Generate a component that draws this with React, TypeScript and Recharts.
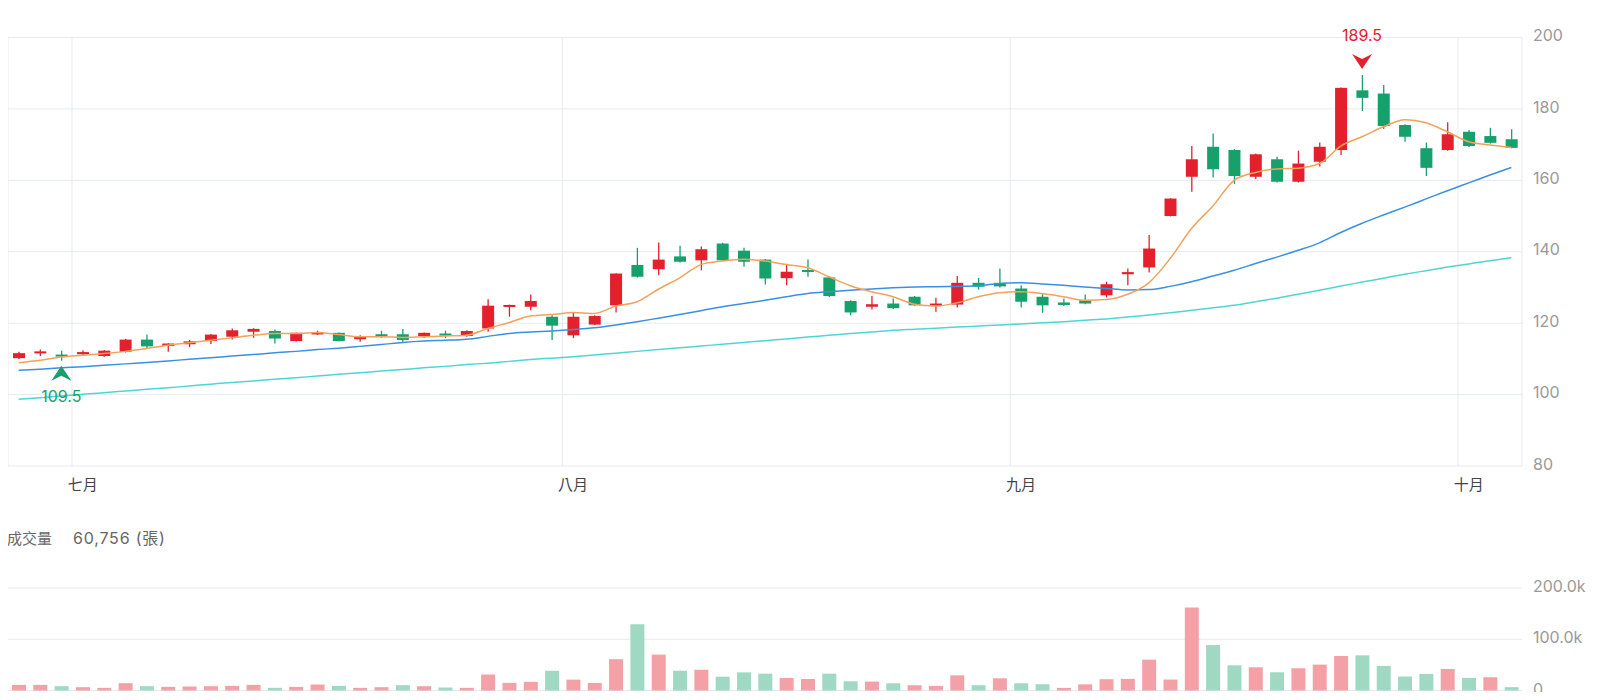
import {
  ComposedChart,
  Bar,
  Line,
  XAxis,
  YAxis,
  CartesianGrid,
  ReferenceLine,
  ReferenceDot,
  Cell,
} from "recharts";

const RED = "#e3202c";
const GREEN = "#16a06c";
const RED_VOL = "#f3a1a6";
const GREEN_VOL = "#9fd8c3";
const GRID = "#e6e9f1";
const FONT = 'Inter, "Noto Sans CJK TC", sans-serif';

// first trading day of each month (index into the daily arrays)
const monthStart = [3, 26, 47, 68];
const monthLabel = ["七月", "八月", "九月", "十月"];

const priceTicks = [80, 100, 120, 140, 160, 180, 200];
const volumeTicks = [0, 100000, 200000];

const open = [
  110.2, 111.9, 111.2, 111.3, 110.8, 112.0, 115.4, 113.6, 114.1, 115.0,
  116.2, 117.6, 117.8, 115.0, 117.1, 117.3, 115.5, 116.9, 116.9, 116.4,
  117.1, 116.4, 118.5, 124.7, 124.6, 121.8, 116.6, 119.6, 125.0, 136.3,
  135.1, 138.7, 137.6, 142.3, 140.3, 137.8, 132.6, 134.9, 132.8, 126.2,
  124.6, 125.5, 127.4, 124.8, 125.2, 131.3, 131.3, 129.7, 127.4, 125.8,
  126.4, 127.8, 133.7, 135.6, 150.0, 161.0, 169.4, 168.5, 161.0, 165.9,
  159.6, 165.2, 168.5, 185.2, 184.3, 175.5, 169.0, 168.5, 173.6, 172.4,
  171.5,
];
const high = [
  112.0, 112.6, 112.3, 112.4, 112.5, 115.6, 116.8, 114.4, 115.3, 117.0,
  118.5, 118.6, 118.2, 117.4, 117.9, 117.4, 116.6, 117.9, 118.4, 117.4,
  117.9, 118.0, 126.7, 125.2, 128.0, 122.2, 123.0, 122.2, 134.0, 141.1,
  142.6, 141.7, 141.5, 142.5, 141.1, 138.0, 136.3, 137.8, 133.0, 126.4,
  127.6, 126.9, 127.6, 127.1, 133.2, 132.7, 135.3, 130.6, 128.3, 126.9,
  128.0, 131.6, 135.3, 144.7, 155.0, 169.6, 173.1, 168.7, 167.5, 166.6,
  168.3, 170.6, 186.0, 189.5, 186.7, 175.7, 170.6, 176.3, 174.1, 174.7,
  174.3,
];
const low = [
  110.0, 110.8, 109.5, 110.8, 110.6, 111.8, 112.8, 112.0, 113.3, 114.2,
  115.4, 115.9, 114.3, 114.9, 116.7, 114.9, 114.8, 115.9, 114.8, 115.9,
  115.8, 116.2, 117.6, 121.8, 123.6, 115.3, 115.8, 119.5, 123.0, 132.8,
  133.4, 137.0, 134.8, 137.4, 135.8, 130.8, 130.6, 133.0, 127.3, 122.2,
  123.8, 124.0, 124.9, 123.2, 124.4, 129.4, 130.0, 124.4, 122.9, 124.8,
  125.3, 127.2, 130.6, 134.2, 149.9, 156.8, 160.8, 159.0, 160.4, 159.4,
  159.4, 163.9, 167.1, 179.4, 174.4, 170.8, 161.2, 168.3, 169.3, 170.3,
  169.0,
];
const close = [
  111.6, 112.1, 110.9, 111.9, 112.3, 115.4, 113.5, 114.3, 114.9, 116.8,
  118.0, 118.4, 115.7, 117.3, 117.4, 115.0, 116.4, 116.5, 115.3, 117.3,
  116.5, 117.8, 124.9, 125.1, 126.2, 119.3, 121.8, 122.0, 133.9, 133.0,
  137.8, 137.2, 140.7, 137.6, 137.2, 132.5, 134.4, 134.5, 127.6, 123.0,
  125.3, 124.2, 125.0, 125.5, 131.3, 130.2, 130.3, 126.0, 125.0, 125.1,
  125.5, 130.9, 134.3, 140.9, 154.9, 165.9, 163.1, 161.2, 167.3, 159.6,
  164.7, 169.4, 185.9, 183.1, 175.2, 172.2, 163.5, 172.9, 169.6, 170.5,
  169.1,
];
const volume = [
  11000, 11000, 8400, 6500, 5200, 14300, 8400, 7100, 7800, 8400,
  9100, 11000, 5200, 7100, 11700, 9100, 5200, 6500, 10400, 8400,
  5800, 5200, 31200, 14900, 16900, 38500, 21200, 14800, 61100, 129300,
  70100, 38600, 40500, 27000, 35400, 32800, 24400, 22500, 32800, 18000,
  17400, 14100, 10300, 9000, 29600, 10300, 23800, 14100, 12200, 5100,
  12000, 22000, 22700, 60200, 21400, 161800, 88700, 49200, 45300, 35600,
  43400, 50500, 67300, 68600, 47900, 27200, 32400, 42100, 24600, 25900,
  6500,
];
const ma5 = [
  108.9, 109.6, 110.5, 111.0, 111.5, 112.1, 112.9, 113.8, 114.5, 115.2,
  115.9, 116.6, 117.1, 117.1, 117.4, 116.8, 116.2, 116.2, 116.0, 116.2,
  116.4, 116.6, 118.5, 120.2, 122.0, 122.4, 123.0, 122.7, 124.8, 126.0,
  129.5, 132.7, 136.4, 137.4, 137.9, 137.4, 136.4, 135.5, 133.0, 130.5,
  128.8, 127.4, 125.3, 124.8, 125.7, 127.4, 128.5, 128.8, 128.3, 127.4,
  126.4, 126.6, 128.1, 131.3, 138.1, 146.5, 152.8, 160.0, 162.2, 163.2,
  163.4, 164.7, 169.6, 172.2, 175.0, 177.0, 176.1, 173.6, 170.8, 169.9,
  169.2,
];
const ma20 = [
  106.8, 107.1, 107.5, 107.8, 108.2, 108.6, 109.0, 109.4, 109.9, 110.3,
  110.8, 111.2, 111.7, 112.1, 112.6, 113.0, 113.5, 114.0, 114.6, 115.0,
  115.2, 115.5, 116.3, 117.1, 117.5, 117.8, 118.2, 118.7, 119.5, 120.4,
  121.4, 122.4, 123.5, 124.6, 125.5, 126.4, 127.4, 128.3, 128.8, 129.2,
  129.6, 129.9, 130.1, 130.2, 130.3, 130.5, 131.1, 131.3, 131.0, 130.6,
  130.1, 129.7, 129.3, 129.4, 130.3, 131.6, 133.2, 134.8, 136.7, 138.5,
  140.4, 142.5, 145.4, 148.0, 150.3, 152.5, 154.8, 157.1, 159.3, 161.5,
  163.6,
];
const ma60 = [
  98.7, 99.1, 99.6, 100.1, 100.5, 101.0, 101.5, 101.9, 102.4, 102.9,
  103.4, 103.8, 104.3, 104.7, 105.2, 105.7, 106.1, 106.6, 107.0, 107.5,
  107.9, 108.4, 108.8, 109.3, 109.8, 110.2, 110.6, 111.1, 111.6, 112.1,
  112.6, 113.1, 113.6, 114.1, 114.6, 115.1, 115.6, 116.1, 116.6, 117.1,
  117.5, 118.0, 118.3, 118.6, 118.9, 119.2, 119.5, 119.8, 120.1, 120.4,
  120.8, 121.2, 121.7, 122.3, 122.9, 123.6, 124.3, 125.0, 126.0, 127.0,
  128.1, 129.2, 130.4, 131.5, 132.6, 133.7, 134.7, 135.7, 136.6, 137.5,
  138.3,
];

const VOLUME_TITLE = "成交量";
const VOLUME_VALUE = "60,756 (張)";

const days = open.map((o, i) => ({
  i,
  open: o,
  high: high[i],
  low: low[i],
  close: close[i],
  volume: volume[i],
  ma5: ma5[i],
  ma20: ma20[i],
  ma60: ma60[i],
  // volume colour follows the change against the previous close
  volUp: i === 0 ? close[i] >= o : close[i] >= close[i - 1],
}));

const hiIdx = high.indexOf(Math.max(...high));
const loIdx = low.indexOf(Math.min(...low));

function Candle(props: any) {
  const { x, y, width, height, payload } = props;
  if (!payload) return null;
  const top = Math.min(y, y + height);
  const span = Math.abs(height);
  const { open: o, close: c, high: h, low: l } = payload;
  const toY = (v: number) => top + ((h - v) / (h - l)) * span;
  const color = c >= o ? RED : GREEN;
  const mid = x + width / 2;
  const bodyTop = toY(Math.max(o, c));
  const bodyH = Math.max(toY(Math.min(o, c)) - bodyTop, 2);
  return (
    <g>
      <line x1={mid} x2={mid} y1={top} y2={top + span} stroke={color} strokeWidth={1.3} />
      <rect x={x} y={bodyTop} width={width} height={bodyH} fill={color} />
    </g>
  );
}

function HighMark({ cx, cy }: any) {
  const tip = cy - 6;
  const base = tip - 15;
  return (
    <g>
      <path d={`M${cx - 10},${base} L${cx},${base + 5} L${cx + 10},${base} L${cx},${tip} Z`} fill={RED} />
      <text x={cx} y={base - 13} textAnchor="middle" fill={RED} fontSize={16}>
        {high[hiIdx].toFixed(1)}
      </text>
    </g>
  );
}

function LowMark({ cx, cy }: any) {
  const tip = cy + 5;
  const base = tip + 15;
  return (
    <g>
      <path d={`M${cx - 10},${base} L${cx},${base - 5} L${cx + 10},${base} L${cx},${tip} Z`} fill={GREEN} />
      <text x={cx} y={base + 21} textAnchor="middle" fill={GREEN} fontSize={16}>
        {low[loIdx].toFixed(1)}
      </text>
    </g>
  );
}

const monthTick = ({ x, y, payload }: any) => {
  const k = monthStart.indexOf(payload.value);
  if (k < 0) return <g />;
  return (
    <text x={x} y={y} dy={16} textAnchor="middle" fill="#444" fontSize={15}>
      {monthLabel[k]}
    </text>
  );
};

const priceTick = ({ x, y, payload }: any) => (
  <text x={x} y={y - 2} dy="0.35em" textAnchor="start" fill="#999" fontSize={16}>
    {payload.value}
  </text>
);

const volumeTick = ({ x, y, payload }: any) => (
  <text x={x} y={y - 1.5} dy="0.35em" textAnchor="start" fill="#999" fontSize={16}>
    {payload.value === 0 ? "0" : `${(payload.value / 1000).toFixed(1)}k`}
  </text>
);

export default function App() {
  return (
    <div style={{ position: "relative", width: 1584, height: 684, fontFamily: FONT }}>
      <div style={{ position: "absolute", left: 0, top: 0 }}>
        <ComposedChart
          width={1584}
          height={488}
          data={days}
          margin={{ top: 29.5, right: 10, left: 0, bottom: 0 }}
        >
          <CartesianGrid stroke={GRID} vertical={false} />
          <XAxis
            dataKey="i"
            type="category"
            height={30}
            axisLine={false}
            tickLine={false}
            interval={0}
            tick={monthTick}
          />
          <YAxis
            orientation="right"
            domain={[80, 200]}
            ticks={priceTicks}
            width={60}
            axisLine={false}
            tickLine={false}
            tickMargin={5}
            interval={0}
            tick={priceTick}
          />
          <ReferenceLine x={0} position="start" stroke={GRID} />
          <ReferenceLine x={days.length - 1} position="end" stroke={GRID} />
          {monthStart.map((m) => (
            <ReferenceLine key={m} x={m} position="start" stroke={GRID} />
          ))}
          <Line dataKey="ma60" type="monotone" stroke="#4ed6d4" strokeWidth={1.5} dot={false} isAnimationActive={false} />
          <Line dataKey="ma20" type="monotone" stroke="#3a8fe4" strokeWidth={1.5} dot={false} isAnimationActive={false} />
          <Line dataKey="ma5" type="monotone" stroke="#f5a159" strokeWidth={1.5} dot={false} isAnimationActive={false} />
          <Bar
            dataKey={(d: any) => [d.low, d.high]}
            barSize={12}
            shape={Candle}
            isAnimationActive={false}
          />
          <ReferenceDot x={hiIdx} y={high[hiIdx]} shape={HighMark} ifOverflow="visible" />
          <ReferenceDot x={loIdx} y={low[loIdx]} shape={LowMark} ifOverflow="visible" />
        </ComposedChart>
      </div>

      <div
        style={{
          position: "absolute",
          left: -1,
          top: 520,
          fontSize: 15,
          lineHeight: "20px",
          color: "#666",
          whiteSpace: "nowrap",
        }}
      >
        <span>{VOLUME_TITLE}</span>
        <span style={{ marginLeft: 21, fontSize: 16, letterSpacing: 0.8 }}>{VOLUME_VALUE}</span>
      </div>

      <div style={{ position: "absolute", left: 0, top: 552 }}>
        <ComposedChart
          width={1584}
          height={140}
          data={days}
          margin={{ top: 28, right: 10, left: 0, bottom: 9.5 }}
        >
          <CartesianGrid stroke={GRID} vertical={false} />
          <XAxis dataKey="i" type="category" hide />
          <YAxis
            orientation="right"
            domain={[0, 200000]}
            ticks={volumeTicks}
            width={60}
            axisLine={false}
            tickLine={false}
            tickMargin={5}
            interval={0}
            tick={volumeTick}
          />
          <Bar dataKey="volume" barSize={14} isAnimationActive={false}>
            {days.map((d) => (
              <Cell key={d.i} fill={d.volUp ? RED_VOL : GREEN_VOL} />
            ))}
          </Bar>
        </ComposedChart>
      </div>
    </div>
  );
}
